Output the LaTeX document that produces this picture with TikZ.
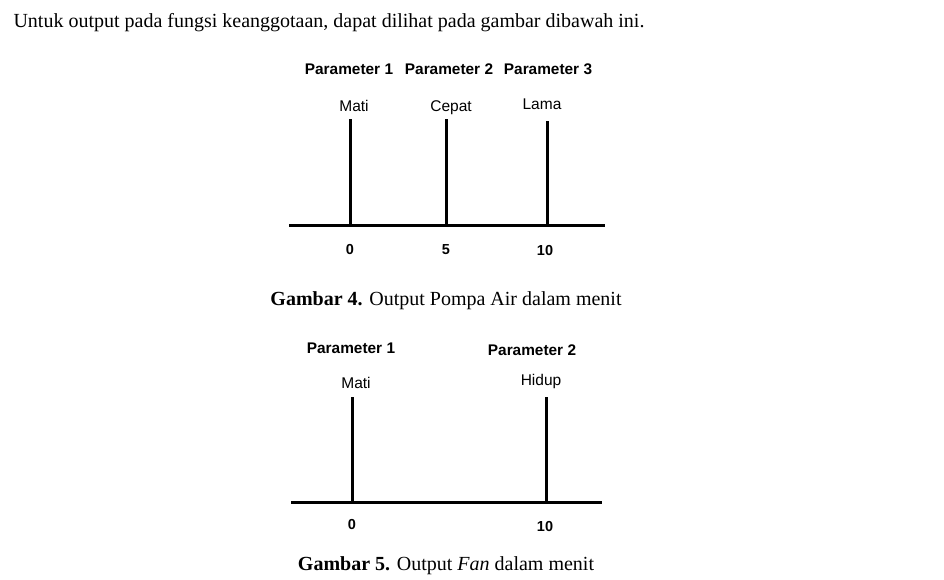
\documentclass[tikz,border=0pt]{standalone}
\usepackage{fontspec}
\setmainfont{Liberation Serif}
\setsansfont{Liberation Sans}

\begin{document}
\begin{tikzpicture}[x=1pt,y=-1pt,line width=3pt,
  param/.style={anchor=base,font=\sffamily\bfseries\fontsize{15.4}{17}\selectfont},
  state/.style={anchor=base,font=\sffamily\fontsize{15.5}{17}\selectfont},
  tick/.style={anchor=base,font=\sffamily\bfseries\fontsize{14.5}{16}\selectfont},
  capt/.style={anchor=base,font=\fontsize{20}{22}\selectfont}]
  \useasboundingbox (0,0) rectangle (944,579);
  \node[capt,anchor=base west,inner sep=0pt] (intro) at (12,27){Untuk output pada fungsi keanggotaan, dapat dilihat pada gambar dibawah ini.};
  % Gambar 4
  \node[param] (p1) at (349,74){Parameter 1};
  \node[param] (p2) at (449,74){Parameter 2};
  \node[param] (p3) at (548,74){Parameter 3};
  \node[state] (mati) at (354,111){Mati};
  \node[state] (cepat) at (451,111){Cepat};
  \node[state] (lama) at (542,109){Lama};
  \coordinate (axl) at (289,225); \coordinate (axr) at (605,225);
  \coordinate (t0) at (350,225); \coordinate (t5) at (446,225); \coordinate (t10) at (547,225);
  \coordinate (s0) at (350,119); \coordinate (s5) at (446,119); \coordinate (s10) at (547,121);
  \draw (axl)--(axr);
  \draw (s0)--(t0); \draw (s5)--(t5); \draw (s10)--(t10);
  \node[tick] (n0) at (350,254){0};
  \node[tick] (n5) at (446,254){5};
  \node[tick] (n10) at (545,255){10};
  \node[capt] (cap4) at (446,305){\textbf{Gambar 4.} Output Pompa Air dalam menit};
  % Gambar 5
  \node[param] (q1) at (351,353){Parameter 1};
  \node[param] (q2) at (532,355){Parameter 2};
  \node[state] (mati2) at (356,388){Mati};
  \node[state] (hidup) at (541,385){Hidup};
  \coordinate (bxl) at (291,502); \coordinate (bxr) at (602,502);
  \coordinate (u0) at (352,502); \coordinate (u10) at (546,502);
  \coordinate (v0) at (352,397); \coordinate (v10) at (546,397);
  \draw (bxl)--(bxr);
  \draw (v0)--(u0); \draw (v10)--(u10);
  \node[tick] (m0) at (352,529){0};
  \node[tick] (m10) at (545,531){10};
  \node[capt] (cap5) at (446,570){\textbf{Gambar 5.} Output \textit{Fan} dalam menit};
\end{tikzpicture}
\end{document}
